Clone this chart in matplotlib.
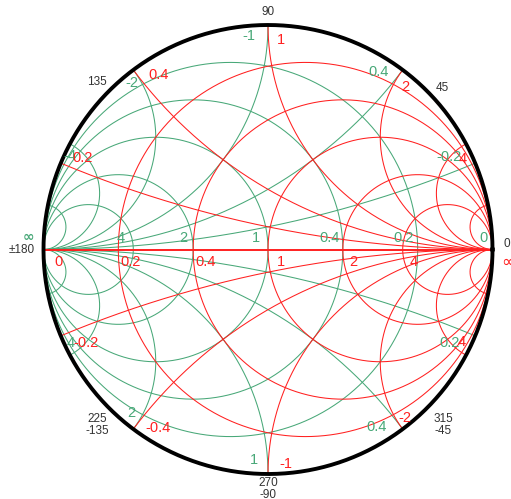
import numpy as np
import matplotlib
matplotlib.use("Agg")
import matplotlib.pyplot as plt

plt.rcParams["font.family"] = ["Liberation Sans", "DejaVu Sans"]

# ---------------- data ----------------
resistance = [0.2, 0.5, 1, 2, 4]
reactance = [0.2, 0.5, 1, 2, 4, 10]
conductance = [0.2, 0.5, 1, 2, 4]
susceptance = [0.2, 0.5, 1, 2, 4, 10]

red_axis_labels = ["0", "0.2", "0.4", "1", "2", "4"]
green_axis_labels = ["4", "2", "1", "0.4", "0.2", "0"]
red_edge_labels = ["1", "0.4", "2", "0.2", "4", "-1", "-0.4", "-2", "-0.2", "4"]
green_edge_labels = ["-1", "-2", "0.4", "-0.2", "-4", "1", "2", "0.4", "0.2", "4"]
angle_labels = ["0", "45", "90", "135", "±180", "225\n-135", "270\n-90", "315\n-45"]

# ---------------- geometry ----------------
W, H = 511, 499
CX, CY, R = 268.0, 249.5, 224.5
RED = "#ff2020"
GREEN = "#48a878"

fig = plt.figure(figsize=(W / 100, H / 100), dpi=100)
ax = fig.add_axes([0, 0, 1, 1])
ax.set_xlim((0 - CX) / R, (W - CX) / R)
ax.set_ylim((CY - H) / R, (CY - 0) / R)
ax.axis("off")


def P(xp, yp):
    return (xp - CX) / R, (CY - yp) / R


big = np.concatenate([[0], np.logspace(-4, 5, 3000)])
sym = np.concatenate([-big[::-1], big[1:]])


def gam_z(z):
    return (z - 1) / (z + 1)


def gam_y(y):
    return (1 - y) / (1 + y)


lw = 0.75
# impedance grid (red)
for r in resistance:
    g = gam_z(r + 1j * sym)
    ax.plot(g.real, g.imag, color=RED, lw=lw, zorder=3)
for x in reactance:
    for s in (1, -1):
        g = gam_z(big + 1j * s * x)
        ax.plot(g.real, g.imag, color=RED, lw=lw, zorder=3)
# admittance grid (green)
for gg in conductance:
    g = gam_y(gg + 1j * sym)
    ax.plot(g.real, g.imag, color=GREEN, lw=lw, zorder=2)
for b in susceptance:
    for s in (1, -1):
        g = gam_y(big + 1j * s * b)
        ax.plot(g.real, g.imag, color=GREEN, lw=lw, zorder=2)

ax.plot([-1, 1], [0, 0], color=RED, lw=1.4, zorder=4)

t = np.linspace(0, 2 * np.pi, 720)
ax.plot(np.cos(t), np.sin(t), color="black", lw=2.8, zorder=5)


def txt(xp, yp, s, c, fs=10.5, **kw):
    ax.text(*P(xp, yp), s, color=c, fontsize=fs, ha="center", va="center",
            zorder=6, **kw)


# axis labels
for s, xp in zip(red_axis_labels, [58, 131, 206, 281, 353, 414]):
    txt(xp, 262, s, RED)
for s, xp in zip(green_axis_labels, [121, 183, 256, 330, 404, 483]):
    txt(xp, 238, s, GREEN)

# perimeter labels
for s, (xp, yp) in zip(green_edge_labels,
                       [(249, 36), (132, 83), (379, 72), (449, 157), (70, 156),
                        (254, 460), (131, 413), (377, 427), (450, 343), (71, 343)]):
    txt(xp, yp, s, GREEN)
for s, (xp, yp) in zip(red_edge_labels,
                       [(281, 40), (159, 75), (405, 87), (83, 158), (463, 159),
                        (286, 464), (158, 428), (405, 418), (86, 343), (462, 342)]):
    txt(xp, yp, s, RED)

# angle labels
AC = "#333333"
for s, (xp, yp) in zip(angle_labels,
                       [(507, 244), (442, 88), (268, 12), (97, 82), (22, 250),
                        (97, 425), (268, 489), (443, 425)]):
    txt(xp, yp, s, AC, fs=8.5, linespacing=1.0)

txt(28, 237, "∞", GREEN, fs=10, fontweight="bold", family=["DejaVu Sans"])
txt(508, 262, "∞", RED, fs=12, family=["DejaVu Sans"])

fig.savefig("out.png", dpi=100)
